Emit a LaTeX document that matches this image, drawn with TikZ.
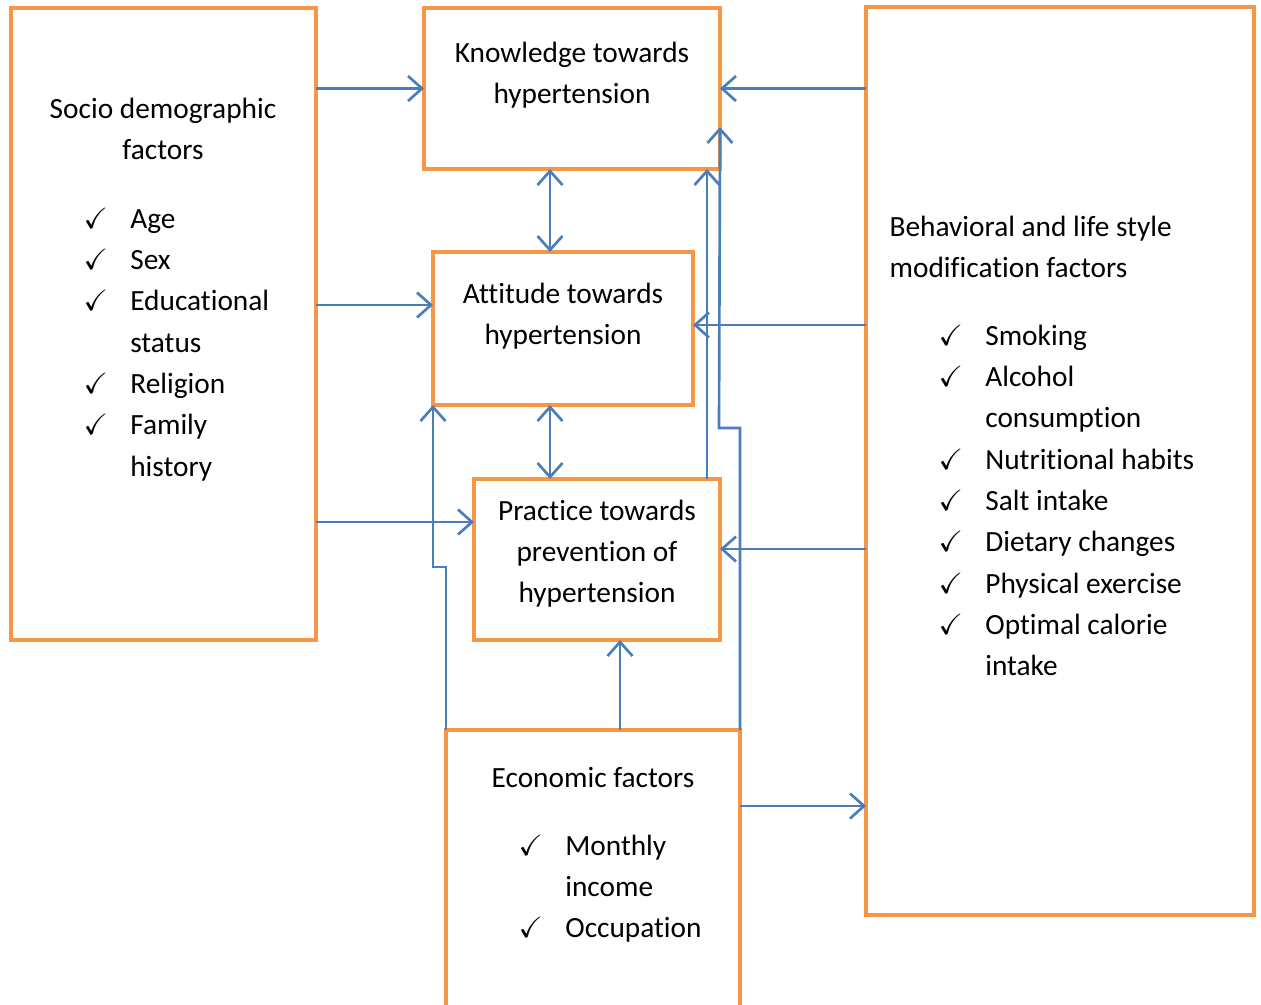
\documentclass[tikz,border=0pt]{standalone}
\usepackage{fontspec}
\setmainfont{Carlito}[Ligatures=NoCommon]
\usepackage{amssymb}
\usetikzlibrary{arrows.meta,fit}
\definecolor{boxorange}{HTML}{F79646}
\definecolor{linkblue}{HTML}{4A7EBB}

\begin{document}
\begin{tikzpicture}[x=0.3pt,y=-0.3pt,
    factorbox/.style={draw=boxorange, line width=1.2pt, inner sep=0pt, outer sep=0pt},
    link/.style={draw=linkblue, line width=0.8pt, -{Straight Barb[length=4.2pt,width=7.5pt]}},
    twolink/.style={link, {Straight Barb[length=4.2pt,width=7.5pt]}-{Straight Barb[length=4.2pt,width=7.5pt]}},
    txt/.style={font=\fontsize{8.8}{12.4}\selectfont, inner sep=0pt, anchor=base}]
  \useasboundingbox (0,0) rectangle (1261,1004);

  % boxes
  \node[factorbox, fit={(11,8) (316,640)}] (socio) {};
  \node[factorbox, fit={(424,8) (720,169)}] (know) {};
  \node[factorbox, fit={(433,252) (693,405)}] (att) {};
  \node[factorbox, fit={(474,479) (720,640)}] (prac) {};
  \node[factorbox, fit={(446,730) (740,1040)}] (econ) {};
  \node[factorbox, fit={(866,7) (1254,915)}] (behav) {};

  % socio demographic
  \node[txt] (sociotitle) at (163,118) {\begin{tabular}[t]{@{}c@{}}Socio demographic\\factors\end{tabular}};
  \node[txt, anchor=base west] (sociolist) at (83,228) {\begin{tabular}[t]{@{}p{14pt}@{}l@{}}
    $\checkmark$ & Age\\
    $\checkmark$ & Sex\\
    $\checkmark$ & Educational\\
                 & status\\
    $\checkmark$ & Religion\\
    $\checkmark$ & Family\\
                 & history
  \end{tabular}};

  % knowledge, attitude, practice
  \node[txt] (knowtext) at (572,62) {\begin{tabular}[t]{@{}c@{}}Knowledge towards\\hypertension\end{tabular}};
  \node[txt] (atttext) at (563,303) {\begin{tabular}[t]{@{}c@{}}Attitude towards\\hypertension\end{tabular}};
  \node[txt] (practext) at (597,520) {\begin{tabular}[t]{@{}c@{}}Practice towards\\prevention of\\hypertension\end{tabular}};

  % economic
  \node[txt] (econtitle) at (593,787) {Economic factors};
  \node[txt, anchor=base west] (econlist) at (518,855) {\begin{tabular}[t]{@{}p{14pt}@{}l@{}}
    $\checkmark$ & Monthly\\
                 & income\\
    $\checkmark$ & Occupation
  \end{tabular}};

  % behavioral
  \node[txt, anchor=base west] (behavtitle) at (889,236) {\begin{tabular}[t]{@{}l@{}}Behavioral and life style\\modification factors\end{tabular}};
  \node[txt, anchor=base west] (behavlist) at (938,345) {\begin{tabular}[t]{@{}p{14pt}@{}l@{}}
    $\checkmark$ & Smoking\\
    $\checkmark$ & Alcohol\\
                 & consumption\\
    $\checkmark$ & Nutritional habits\\
    $\checkmark$ & Salt intake\\
    $\checkmark$ & Dietary changes\\
    $\checkmark$ & Physical exercise\\
    $\checkmark$ & Optimal calorie\\
                 & intake
  \end{tabular}};

  % arrows from the left
  \draw[link] (socio.east |- know.west) -- (know.west);
  \draw[link] (socio.east |- 0,305) -- (att.west |- 0,305);
  \draw[link] (socio.east |- 0,522) -- (prac.west |- 0,522);

  % arrows from the right
  \draw[link] (behav.west |- know.east) -- (know.east);
  \draw[link] (behav.west |- 0,325) -- (att.east |- 0,325);
  \draw[link] (behav.west |- 0,549) -- (prac.east |- 0,549);
  \draw[link] (econ.east |- 0,806) -- (behav.west |- 0,806);

  % middle column
  \draw[twolink] (know.south -| 550,0) -- (att.north -| 550,0);
  \draw[twolink] (att.south -| 550,0) -- (prac.north -| 550,0);
  \draw[link] (econ.north -| 620,0) -- (prac.south -| 620,0);
  \draw[link] (prac.north -| 707,0) -- (know.south -| 707,0);

  % economic factors up to attitude and knowledge
  \draw[link] (econ.north west) -- (446,567) -- (433,567) -- (att.south west);
  \draw[link] (econ.north east) -- (740,428) -- (719,428) -- (know.east |- 719,127);
\end{tikzpicture}
\end{document}
